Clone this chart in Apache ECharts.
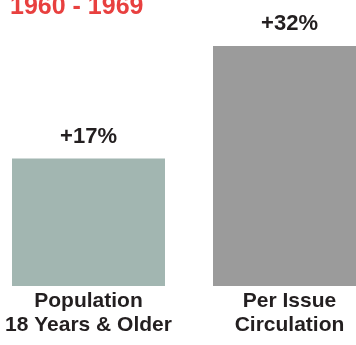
<!DOCTYPE html>
<html>
<head>
<meta charset="utf-8">
<style>
  html, body { margin: 0; padding: 0; background: #ffffff; }
  #chart { width: 356px; height: 345px; }
</style>
<script src="https://cdn.jsdelivr.net/npm/echarts@6/dist/echarts.min.js"></script>
</head>
<body>
<div id="chart"></div>
<script>
// Growth 1960 - 1969
const periodTitle = '1960 - 1969';
const categories = ['Population\n18 Years & Older', 'Per Issue\nCirculation'];
const growthPct = [17, 32];
const barColors = ['#a2b6b1', '#9b9b9b'];

const chart = echarts.init(document.getElementById('chart'), null, { renderer: 'canvas' });

const fontFamily = '"Liberation Sans", Arial, sans-serif';
const ink = '#231f20';

chart.setOption({
  backgroundColor: '#ffffff',
  animation: false,
  graphic: [{
    type: 'text',
    left: 10,
    top: -5,
    style: {
      text: periodTitle,
      fill: '#e8403f',
      font: 'bold 25px ' + fontFamily
    }
  }],
  grid: {
    left: -12,
    width: 402,
    top: 16,
    height: 270,
    containLabel: false,
    outerBoundsMode: 'none'
  },
  xAxis: {
    type: 'category',
    data: categories,
    axisLine: { show: false },
    axisTick: { show: false },
    axisLabel: {
      interval: 0,
      margin: 3,
      color: ink,
      fontFamily: fontFamily,
      fontWeight: 'bold',
      fontSize: 21,
      lineHeight: 24
    }
  },
  yAxis: {
    type: 'value',
    min: 0,
    max: 36,
    show: false,
    splitLine: { show: false }
  },
  series: [{
    type: 'bar',
    barWidth: 153,
    data: growthPct.map((v, i) => ({ value: v, itemStyle: { color: barColors[i] } })),
    label: {
      show: true,
      position: 'top',
      distance: 11,
      color: ink,
      fontFamily: fontFamily,
      fontWeight: 'bold',
      fontSize: 22,
      formatter: p => '+' + p.value + '%'
    }
  }]
});
</script>
</body>
</html>
